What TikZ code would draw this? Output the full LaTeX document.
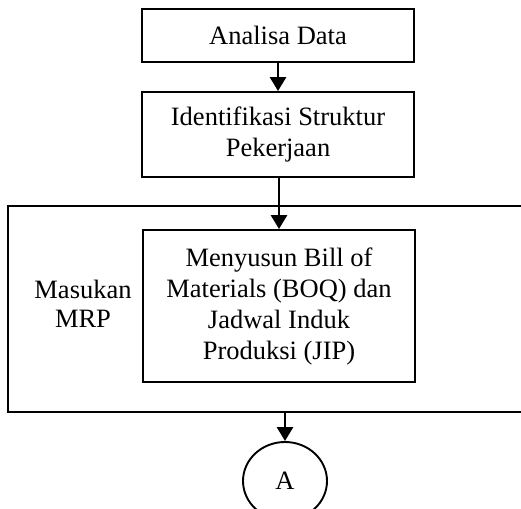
\documentclass[tikz,border=0pt]{standalone}
\usepackage{fontspec}
\setmainfont{Liberation Serif}
\usetikzlibrary{shapes.geometric,arrows.meta,positioning}

\begin{document}
\begin{tikzpicture}[x=1pt,y=-1pt,
  box/.style={draw,rectangle,line width=1.9pt,minimum width=272pt,align=center,inner sep=0pt,
    font=\fontsize{26.5}{31}\selectfont},
  flow/.style={line width=2.8pt,-{Triangle[length=14pt,width=16pt]}}]
  \clip (0,0) rectangle (521,508);
  % kotak proses
  \node[box,minimum height=53pt] (analisa) at (278,35.5) {Analisa Data};
  \node[box,minimum height=85pt] (identifikasi) at (278,134.5) {Identifikasi Struktur\\Pekerjaan};
  % kotak masukan MRP
  \node[box,minimum width=552pt,minimum height=206pt] (masukan) at (284,309) {};
  \node[box,minimum height=152pt] (menyusun) at (279,306)
    {Menyusun Bill of\\Materials (BOQ) dan\\Jadwal Induk\\Produksi (JIP)};
  \node[align=center,font=\fontsize{26.5}{29}\selectfont] (label) at (83,304) {Masukan\\MRP};
  % penghubung
  \node[draw,ellipse,line width=1.9pt,minimum width=84pt,minimum height=78pt,
    font=\fontsize{26.5}{31}\selectfont] (A) at (285,481) {A};
  \coordinate (keluar) at (A.north |- masukan.south);
  % panah
  \draw[flow] (analisa) -- (identifikasi);
  \draw[flow] (identifikasi.south -| menyusun.north) -- (menyusun.north);
  \draw[flow] (keluar) -- (A.north);
\end{tikzpicture}
\end{document}
